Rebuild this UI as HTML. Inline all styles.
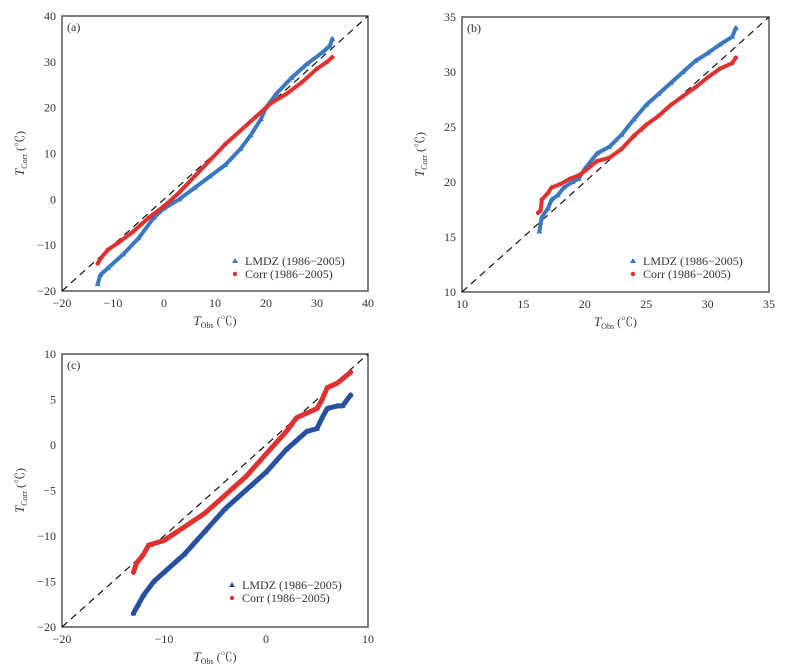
<!DOCTYPE html>
<html><head><meta charset="utf-8"><style>
body{margin:0;background:#fff;}
svg text{font-family:"Liberation Serif","Noto Serif CJK SC",serif;fill:#333;}
</style></head><body>
<svg id="fig" width="797" height="666" xmlns="http://www.w3.org/2000/svg"></svg>
<script>
// Panel (a)
const aLmdzObs=[-13,-12.5,-11,-8,-5,-2,0,3,6,9,12,15,17,19,20,22,25,28,31,32.5,33];
const aLmdzCorr=[-18.5,-16.5,-15,-12,-8.5,-4,-2,0,2.5,5,7.5,11,14,17.5,20,23,26.5,29.5,32,33.5,35];
const aCorrObs=[-13,-12.5,-11,-9,-6,-3,0,3,6,9,12,15,18,21,24,27,30,32,33];
const aCorrCorr=[-14,-13,-11,-9.5,-7,-4,-1.5,1.5,5,8.5,12,15,18,21,23,25.5,28.5,30,31];
const aTicks=[-20,-10,0,10,20,30,40];
// Panel (b)
const bLmdzObs=[16.3,16.5,17,17.3,17.8,18.3,19,19.5,20,21,22,23,24,25,26,27,28,29,30,31,32,32.3];
const bLmdzCorr=[15.5,16.8,17.6,18.4,18.8,19.5,20,20.3,21.2,22.6,23.2,24.3,25.7,27,28,29,30,31,31.7,32.5,33.2,34];
const bCorrObs=[16.2,16.4,16.5,17,17.3,18,18.8,19.5,20,21,22,23,24,25,26,27,28,29,30,31,32,32.3];
const bCorrCorr=[17.2,17.4,18.4,19,19.5,19.8,20.3,20.6,21,21.9,22.2,23,24.2,25.2,26,27,27.8,28.6,29.5,30.3,30.8,31.3];
const bTicks=[10,15,20,25,30,35];
// Panel (c)
const cLmdzObs=[-13,-12.5,-12,-11,-10,-8,-6,-4,-2,0,2,4,5,5.5,6,7,7.5,8.3];
const cLmdzCorr=[-18.5,-17.5,-16.5,-15,-14,-12,-9.5,-7,-5,-3,-0.5,1.5,1.8,3,4,4.3,4.3,5.5];
const cCorrObs=[-13,-12.7,-12,-11.5,-10,-8,-6,-4,-2,0,2,3,5,5.5,6,7,8.3];
const cCorrCorr=[-14,-13,-12,-11,-10.5,-9,-7.5,-5.5,-3.5,-1,1.5,3,4,5,6.3,6.8,8];
const cTicks=[-20,-10,0,10];
const cYTicks=[-20,-15,-10,-5,0,5,10];

const NS="http://www.w3.org/2000/svg";
const fig=document.getElementById('fig');
function mk(tag,attrs,parent){const e=document.createElementNS(NS,tag);for(const k in attrs)e.setAttribute(k,attrs[k]);(parent||fig).appendChild(e);return e;}

function panel(p){
  const g=mk('g',{});
  
  
  const sx=v=>p.x0+(v-p.xmin)/(p.xmax-p.xmin)*(p.x1-p.x0);
  const sy=v=>p.y1-(v-p.ymin)/(p.ymax-p.ymin)*(p.y1-p.y0);
  const box=mk('rect',{x:p.x0,y:p.y0,width:p.x1-p.x0,height:p.y1-p.y0,fill:'none',stroke:'#555','stroke-width':1.5},g);
  
  
  const diag=mk('line',{x1:sx(Math.max(p.xmin,p.ymin)),y1:sy(Math.max(p.xmin,p.ymin)),x2:sx(Math.min(p.xmax,p.ymax)),y2:sy(Math.min(p.xmax,p.ymax)),stroke:'#111','stroke-width':1.2,'stroke-dasharray':'7,5'},g);
  
  
  p.xt.forEach(v=>{const t=mk('text',{x:sx(v),y:p.y1+16,'font-size':12,'text-anchor':'middle'},g);t.textContent=v<0?'\u2212'+(-v):v;
    
    });
  p.yt.forEach(v=>{const t=mk('text',{x:p.x0-6,y:sy(v)+4,'font-size':12,'text-anchor':'end'},g);t.textContent=v<0?'\u2212'+(-v):v;
    
    });
  const lab=mk('text',{x:p.x0+5,y:p.y0+15,'font-size':12},g);lab.textContent='('+p.id+')';
  
  
  const xl=mk('text',{x:(p.x0+p.x1)/2,y:p.y1+34,'font-size':12,'text-anchor':'middle'},g);
  xl.innerHTML='<tspan font-style="italic" font-size="13">T</tspan><tspan font-size="8" dy="3">Obs</tspan><tspan dy="-3"> (℃)</tspan>';
  
  
  const cy=(p.y0+p.y1)/2, cx=p.x0-38;
  const yl=mk('text',{x:cx,y:cy,'font-size':12,'text-anchor':'middle',transform:'rotate(-90 '+cx+' '+cy+')'},g);
  yl.innerHTML='<tspan font-style="italic" font-size="13">T</tspan><tspan font-size="8" dy="3">Corr</tspan><tspan dy="-3"> (℃)</tspan>';
  
  
  // series
  function series(xs,ys,color,tri,name){
    const sg=mk('g',{},g);
    
    
    const pts=xs.map((x,i)=>sx(x).toFixed(1)+','+sy(ys[i]).toFixed(1)).join(' ');
    const pl=mk('polyline',{points:pts,fill:'none',stroke:color,'stroke-width':p.lw,'stroke-linejoin':'round','stroke-linecap':'round'},sg);
    
    
    xs.forEach((x,i)=>{
      const X=sx(x),Y=sy(ys[i]);let m;
      if(tri) m=mk('polygon',{points:`${X},${Y-3} ${X-3},${Y+2} ${X+3},${Y+2}`,fill:color},sg);
      else m=mk('circle',{cx:X,cy:Y,r:2.2,fill:color},sg);
      
      
    });
  }
  series(p.lx,p.ly,p.blue,true,'lmdz-series');
  series(p.cx,p.cy,'#e03030',false,'corr-series');
  // legend
  const lg=mk('g',{},g);
  
  
  const t1=mk('polygon',{points:`${p.lgx},${p.lgy-7} ${p.lgx-3},${p.lgy-2} ${p.lgx+3},${p.lgy-2}`,fill:p.blue},lg);
  
  
  const l1=mk('text',{x:p.lgx+10,y:p.lgy,'font-size':12},lg);l1.textContent='LMDZ (1986\u22122005)';
  
  
  const c1=mk('circle',{cx:p.lgx,cy:p.lgy+9,r:2.2,fill:'#e03030'},lg);
  
  
  const l2=mk('text',{x:p.lgx+10,y:p.lgy+13,'font-size':12},lg);l2.textContent='Corr (1986\u22122005)';
  
  
}
panel({id:'a',x0:62,x1:368,y0:16,y1:291,xmin:-20,xmax:40,ymin:-20,ymax:40,xt:aTicks,yt:aTicks,
  lx:aLmdzObs,ly:aLmdzCorr,cx:aCorrObs,cy:aCorrCorr,blue:'#3a78c0',lw:4,lgx:235,lgy:265});
panel({id:'b',x0:462,x1:769,y0:17,y1:292,xmin:10,xmax:35,ymin:10,ymax:35,xt:bTicks,yt:bTicks,
  lx:bLmdzObs,ly:bLmdzCorr,cx:bCorrObs,cy:bCorrCorr,blue:'#3a78c0',lw:4,lgx:633,lgy:265});
panel({id:'c',x0:62,x1:368,y0:354,y1:627,xmin:-20,xmax:10,ymin:-20,ymax:10,xt:cTicks,yt:cYTicks,
  lx:cLmdzObs,ly:cLmdzCorr,cx:cCorrObs,cy:cCorrCorr,blue:'#2850a0',lw:5,lgx:232,lgy:589});
</script>
</body></html>
